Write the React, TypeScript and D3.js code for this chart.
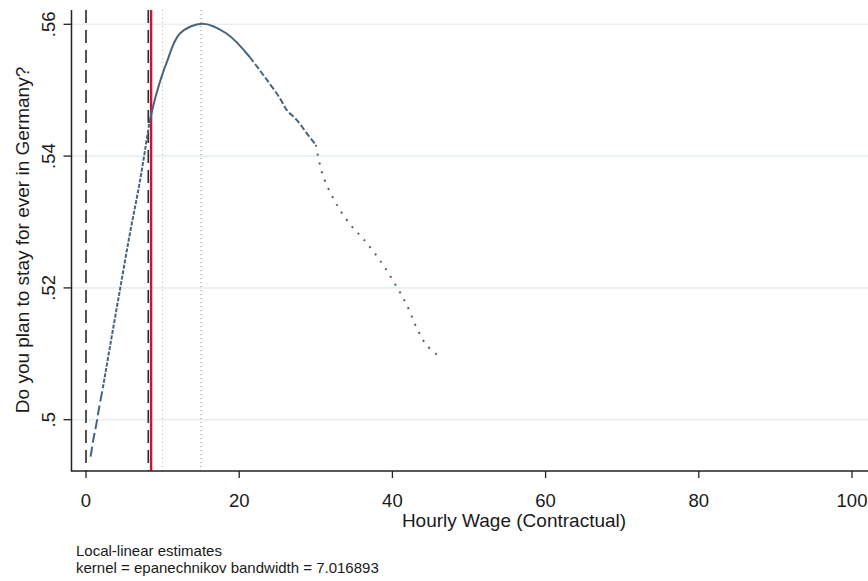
import React from "react";
import * as d3 from "d3";

const wage = [0.6, 0.96, 1.3, 1.74, 2.2, 3.13, 4.43, 5.74, 7.04, 8.26, 9.2, 10.5, 12.26, 15.2, 18.35, 21.4, 22.7, 23.6, 25.3, 26.2, 27.5, 28.8, 30.0, 30.95, 32.9, 34.8, 36.3, 38.6, 40.6, 42.0, 43.1, 44.4, 46.1];
const estimate = [0.4944, 0.497, 0.499, 0.502, 0.5048, 0.5111, 0.5197, 0.5283, 0.5362, 0.545, 0.5495, 0.5541, 0.5586, 0.5601, 0.5586, 0.555, 0.553, 0.5516, 0.5488, 0.547, 0.5455, 0.5435, 0.5417, 0.537, 0.5323, 0.5292, 0.5273, 0.5238, 0.5201, 0.5171, 0.5141, 0.5114, 0.5096];

const xTicks = [0, 20, 40, 60, 80, 100];
const yTicks = [0.5, 0.52, 0.54, 0.56];
const yTickLabels = [".5", ".52", ".54", ".56"];

const dashedRefLines = [0, 8.13];
const minimumWage = 8.5;
const dottedRefLines = [10, 15];

const xTitle = "Hourly Wage (Contractual)";
const yTitle = "Do you plan to stay for ever in Germany?";
const notes = ["Local-linear estimates", "kernel = epanechnikov bandwidth = 7.016893"];

// segments of the curve (wage ranges) and their rendering
const segments = [
  { from: 0.6, to: 2.2, dash: "10,4" },
  { from: 2.2, to: 8.26, dash: "4,1.5" },
  { from: 8.26, to: 21.4, dash: null },
  { from: 21.4, to: 30.0, dash: "6,2.5" },
  { from: 30.0, to: 46.1, dash: "2,7" },
];

const W = 868;
const H = 581;
const FONT = "'Liberation Sans', Arial, sans-serif";

export default function App() {
  const x = d3.scaleLinear().domain([0, 100]).range([86, 852]);
  const y = d3.scaleLinear().domain([0.5, 0.56]).range([419.7, 24.3]);
  const left = 71.5;
  const right = 868;
  const top = 10;
  const bottom = 471;

  const pts = wage.map((w, i) => [w, estimate[i]] as [number, number]);
  const line = d3
    .line<[number, number]>()
    .x((d) => x(d[0]))
    .y((d) => y(d[1]))
    .curve(d3.curveCatmullRom.alpha(0.5));

  const curveColor = "#46647c";

  return (
    <svg
      width={W}
      height={H}
      style={{ position: "fixed", left: 0, top: 0, background: "#fff" }}
      fontFamily={FONT}
    >
      <rect x={0} y={0} width={W} height={H} fill="#ffffff" />
      {/* grid */}
      {yTicks.map((t) => (
        <line key={"g" + t} x1={left} x2={right} y1={y(t)} y2={y(t)} stroke="#e7eff1" strokeWidth={1.6} />
      ))}
      {/* dotted reference lines */}
      {dottedRefLines.map((v, i) => (
        <line
          key={"dt" + v}
          x1={x(v)}
          x2={x(v)}
          y1={top}
          y2={bottom}
          stroke={i === 0 ? "#b8b8b8" : "#8a8a8a"}
          strokeWidth={1}
          strokeDasharray="1,3"
        />
      ))}
      {/* dashed reference lines */}
      {dashedRefLines.map((v) => (
        <line
          key={"ds" + v}
          x1={x(v)}
          x2={x(v)}
          y1={top}
          y2={bottom}
          stroke="#2b2b2b"
          strokeWidth={1.6}
          strokeDasharray="13,7"
        />
      ))}
      {/* minimum wage */}
      <line x1={x(minimumWage)} x2={x(minimumWage)} y1={top} y2={bottom} stroke="#c8143c" strokeWidth={2.4} />
      {/* curve */}
      {segments.map((s, i) => {
        const sub = pts.filter((p) => p[0] >= s.from - 1e-9 && p[0] <= s.to + 1e-9);
        return (
          <path
            key={"c" + i}
            d={line(sub) || ""}
            fill="none"
            stroke={curveColor}
            strokeWidth={2}
            strokeDasharray={s.dash || undefined}
            strokeLinecap="butt"
          />
        );
      })}
      {/* axes */}
      <line x1={left} x2={left} y1={top} y2={bottom} stroke="#222" strokeWidth={1.5} />
      <line x1={left - 0.75} x2={right} y1={bottom} y2={bottom} stroke="#222" strokeWidth={1.5} />
      {yTicks.map((t, i) => (
        <g key={"yt" + t}>
          <line x1={left - 8} x2={left} y1={y(t)} y2={y(t)} stroke="#222" strokeWidth={1.3} />
          <text
            transform={`translate(55,${y(t)}) rotate(-90)`}
            textAnchor="middle"
            fontSize={18.5}
            fill="#1a1a1a"
          >
            {yTickLabels[i]}
          </text>
        </g>
      ))}
      {xTicks.map((t) => (
        <g key={"xt" + t}>
          <line x1={x(t)} x2={x(t)} y1={bottom} y2={bottom + 7} stroke="#222" strokeWidth={1.3} />
          <text x={x(t)} y={507} textAnchor="middle" fontSize={18.5} fill="#1a1a1a">
            {t}
          </text>
        </g>
      ))}
      <text x={514} y={527} textAnchor="middle" fontSize={19} fill="#1a1a1a">
        {xTitle}
      </text>
      <text transform={`translate(29,240) rotate(-90)`} textAnchor="middle" fontSize={19} fill="#1a1a1a">
        {yTitle}
      </text>
      {notes.map((n, i) => (
        <text key={"n" + i} x={76} y={556 + i * 17} fontSize={15} fill="#1a1a1a">
          {n}
        </text>
      ))}
    </svg>
  );
}
